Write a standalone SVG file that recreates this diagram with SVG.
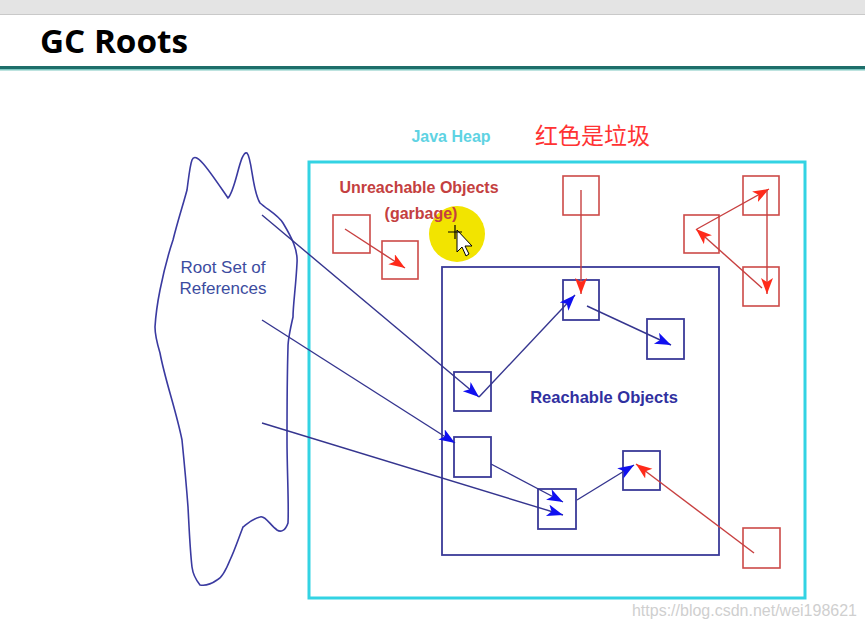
<svg xmlns="http://www.w3.org/2000/svg" width="865" height="627" viewBox="0 0 865 627">
<defs>
<marker id="ab" markerUnits="userSpaceOnUse" markerWidth="18" markerHeight="14" refX="16" refY="6" orient="auto"><path d="M0,0 L16,6 L0,12 L4,6 z" fill="#1010f0"/></marker>
<marker id="ar" markerUnits="userSpaceOnUse" markerWidth="18" markerHeight="14" refX="16" refY="6" orient="auto"><path d="M0,0 L16,6 L0,12 L4,6 z" fill="#ff2a1a"/></marker>
<style>
.rb{fill:none;stroke:#cc4a48;stroke-width:1.6}
.bb{fill:none;stroke:#3a3a98;stroke-width:1.8}
.bl{stroke:#35358f;stroke-width:1.4;fill:none;marker-end:url(#ab)}
.rl{stroke:#c84040;stroke-width:1.4;fill:none;marker-end:url(#ar)}
.t{font-family:"Liberation Sans",Arial,sans-serif;font-weight:bold}
.n{font-family:"Liberation Sans",Arial,sans-serif}
</style>
</defs>
<rect x="0" y="0" width="865" height="627" fill="#ffffff"/>
<rect x="0" y="0" width="865" height="14" fill="#e4e4e4"/>
<line x1="0" y1="14.5" x2="865" y2="14.5" stroke="#c9c9c9" stroke-width="1"/>
<rect x="0" y="66" width="865" height="3" fill="#1d6e6a"/>
<rect x="0" y="69" width="865" height="1.5" fill="#7cc7c0"/>
<text x="40" y="53" font-family="'Open Sans','Noto Sans',sans-serif" font-weight="bold" font-size="33" textLength="148" lengthAdjust="spacingAndGlyphs" fill="#000">GC Roots</text>

<g id="heap">
<rect x="309" y="162" width="496" height="436" fill="none" stroke="#33d3e3" stroke-width="3"/>
<text class="t" x="451" y="142" font-size="16" fill="#5fd3e3" text-anchor="middle">Java Heap</text>
</g>
<text x="535" y="144" font-family="'Noto Sans CJK SC',sans-serif" font-size="23" fill="#ff3333">红色是垃圾</text>

<g id="reachable-area">
<rect x="442" y="267" width="277" height="288" class="bb"/>
<text class="t" x="604" y="403" font-size="16.5" fill="#3030a0" text-anchor="middle">Reachable Objects</text>
</g>

<g id="cursor">
<circle cx="457" cy="234" r="28" fill="#f2e400"/>
<path d="M457,230 L457,252 L462,247 L466,256 L469,254 L465,246 L472,246 Z" fill="#fff" stroke="#000" stroke-width="1"/>
<path d="M448,232 L462,232 M455,225 L455,239" stroke="#000" stroke-width="1.2"/>
</g>

<g id="unreachable-label">
<text class="t" x="419" y="193" font-size="16" fill="#c44040" text-anchor="middle">Unreachable Objects</text>
<text class="t" x="421" y="219" font-size="16" fill="#c44040" text-anchor="middle">(garbage)</text>
</g>

<g id="root-set">
<path d="M192,160 C196,150 210,172 228,198 C236,190 240,150 247,153 C252,158 252,190 260,203 C268,210 278,215 283,223 C292,238 298,250 297,263 C296,285 293,305 293,317 C290,330 288,340 288,347 C287,380 287,410 287,440 C287,470 289,505 288,523 C285,532 280,532 277,530 C270,525 265,515 260,517 C250,520 246,525 243,527 C238,540 234,552 230,560 C226,570 222,578 217,580 C210,585 205,586 200,585 C196,580 193,575 192,567 C190,550 189,525 188,507 C186,480 184,460 182,440 C176,410 165,380 160,353 C157,343 155,335 155,327 C156,310 158,300 160,290 C164,270 168,255 173,240 C178,220 183,205 187,190 C189,175 190,165 192,160 Z" fill="none" stroke="#3a3aa0" stroke-width="1.6"/>
<text class="n" x="223" y="273" font-size="17" fill="#3c4ca0" text-anchor="middle">Root Set of</text>
<text class="n" x="223" y="294" font-size="17" fill="#3c4ca0" text-anchor="middle">References</text>
</g>

<g id="garbage-1"><rect x="333" y="215" width="37" height="38" class="rb"/></g>
<g id="garbage-2"><rect x="382" y="241" width="36" height="38" class="rb"/></g>
<g id="garbage-3"><rect x="563" y="176" width="36" height="39" class="rb"/></g>
<g id="garbage-4"><rect x="743" y="176" width="36" height="39" class="rb"/></g>
<g id="garbage-5"><rect x="684" y="215" width="35" height="38" class="rb"/></g>
<g id="garbage-6"><rect x="743" y="267" width="36" height="39" class="rb"/></g>
<g id="garbage-7"><rect x="743" y="528" width="37" height="40" class="rb"/></g>

<g id="obj-1"><rect x="563" y="280" width="36" height="40" class="bb"/></g>
<g id="obj-2"><rect x="647" y="319" width="37" height="40" class="bb"/></g>
<g id="obj-3"><rect x="454" y="372" width="37" height="39" class="bb"/></g>
<g id="obj-4"><rect x="454" y="437" width="37" height="40" class="bb"/></g>
<g id="obj-5"><rect x="538" y="489" width="38" height="40" class="bb"/></g>
<g id="obj-6"><rect x="623" y="451" width="37" height="39" class="bb"/></g>

<g id="connectors">
<line x1="345" y1="229" x2="405" y2="268" class="rl"/>
<line x1="581" y1="190" x2="581" y2="294" class="rl"/>
<line x1="697" y1="229" x2="769" y2="189" class="rl"/>
<line x1="767" y1="190" x2="767" y2="294" class="rl"/>
<line x1="762" y1="288" x2="696" y2="229" class="rl"/>
<line x1="754" y1="553" x2="636" y2="464" class="rl"/>
<line x1="262" y1="215" x2="479" y2="397" class="bl"/>
<line x1="262" y1="320" x2="455" y2="443" class="bl"/>
<line x1="262" y1="423" x2="563" y2="515" class="bl"/>
<line x1="479" y1="397" x2="575" y2="295" class="bl"/>
<line x1="587" y1="306" x2="671" y2="345" class="bl"/>
<line x1="491" y1="464" x2="563" y2="502" class="bl"/>
<line x1="577" y1="500" x2="634" y2="465" class="bl"/>
</g>

<text x="857" y="616" font-family="'Liberation Sans',Arial,sans-serif" font-size="16" fill="#cfcfcf" text-anchor="end">https://blog.csdn.net/wei198621</text>
</svg>
